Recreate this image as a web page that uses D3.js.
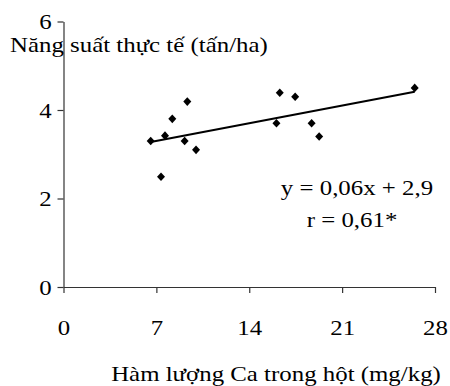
<!DOCTYPE html>
<html>
<head>
<meta charset="utf-8">
<script src="https://cdn.jsdelivr.net/npm/d3@7"></script>
<style>
  body { margin: 0; background: #fff; }
  svg text { font-family: "Liberation Serif", "Times New Roman", serif; font-size: 22px; fill: #000; }
</style>
</head>
<body>
<svg width="450" height="386"></svg>
<script>
// Ca content in kernel (mg/kg) vs actual yield (t/ha)
var caValues = [6.57, 7.35, 7.65, 8.2, 9.13, 9.33, 9.99, 16.05, 16.3, 17.46, 18.7, 19.27, 26.47];
var yieldValues = [3.3, 2.49, 3.42, 3.8, 3.3, 4.19, 3.1, 3.7, 4.39, 4.3, 3.7, 3.4, 4.5];
var xTicks = [0, 7, 14, 21, 28];
var yTicks = [0, 2, 4, 6];
var eqText = "y = 0,06x + 2,9";
var rText = "r = 0,61*";

var sx = 1.13; // the picture is a bit wider than tall

var svg = d3.select("svg");

var x = d3.scaleLinear().domain([0, 28]).range([63.5, 435]);
var y = d3.scaleLinear().domain([0, 6]).range([287, 21.5]);

// axes
var xAxis = svg.append("g")
    .attr("transform", "translate(0," + y(0) + ")")
    .call(d3.axisBottom(x).tickValues(xTicks).tickFormat(d3.format("d")).tickSizeInner(6).tickSizeOuter(0));
xAxis.selectAll("text")
    .attr("y", 48).attr("dy", null)
    .attr("transform", "scale(" + sx + ",1)");

var yAxis = svg.append("g")
    .attr("transform", "translate(" + x(0) + ",0)")
    .call(d3.axisLeft(y).tickValues(yTicks).tickFormat(d3.format("d")).tickSizeInner(6).tickSizeOuter(0));
yAxis.selectAll("text")
    .attr("x", -10.5)
    .attr("transform", "scale(" + sx + ",1)");

svg.selectAll(".domain, .tick line").attr("stroke", "#333").attr("stroke-width", 1.2);
svg.selectAll(".tick text").style("font-size", "22px").style("font-family", "Liberation Serif, Times New Roman, serif");

// least squares trend line
var mx = d3.mean(caValues), my = d3.mean(yieldValues);
var sxy = d3.sum(caValues, function(d, i) { return (d - mx) * (yieldValues[i] - my); });
var sxx = d3.sum(caValues, function(d) { return (d - mx) * (d - mx); });
var slope = sxy / sxx, icpt = my - slope * mx;
var x0 = d3.min(caValues), x1 = d3.max(caValues);

svg.append("line")
    .attr("x1", x(x0)).attr("y1", y(icpt + slope * x0))
    .attr("x2", x(x1)).attr("y2", y(icpt + slope * x1))
    .attr("stroke", "#000")
    .attr("stroke-width", 2);

// points
svg.selectAll(".pt")
    .data(caValues)
    .enter()
    .append("path")
    .attr("class", "pt")
    .attr("d", "M0,-4.3L4,0L0,4.3L-4,0Z")
    .attr("transform", function(d, i) { return "translate(" + x(d) + "," + y(yieldValues[i]) + ")"; })
    .attr("fill", "#000");

function label(px, py, str, anchor) {
    svg.append("text")
        .attr("transform", "translate(" + px + "," + py + ") scale(" + sx + ",1)")
        .attr("text-anchor", anchor)
        .text(str);
}

label(10, 51.5, "Năng suất thực tế (tấn/ha)", "start");
label(357, 195, eqText, "middle");
label(352, 227, rText, "middle");
label(276, 381, "Hàm lượng Ca trong hột (mg/kg)", "middle");
</script>
</body>
</html>
